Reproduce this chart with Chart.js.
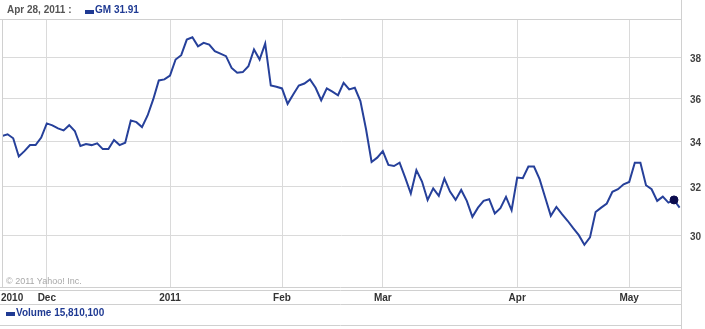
<!DOCTYPE html>
<html><head><meta charset="utf-8">
<script src="https://cdn.jsdelivr.net/npm/chart.js@4/dist/chart.umd.min.js"></script>
<style>
html,body{margin:0;padding:0;background:#fff;}
#wrap{position:relative;width:705px;height:329px;overflow:hidden;}
canvas{position:absolute;left:0;top:0;}
.t{position:absolute;font-family:"Liberation Sans",Arial,sans-serif;font-weight:bold;font-size:10px;line-height:12px;white-space:nowrap;}
.sw{position:absolute;width:9px;height:4px;background:#1f3a93;}
.cp{position:absolute;font-family:"Liberation Sans",Arial,sans-serif;font-size:9px;line-height:10px;color:#a8a8a8;white-space:nowrap;}
</style></head><body>
<div id="wrap">
<canvas id="c" width="705" height="329"></canvas>
<div class="t" style="left:7px;top:4px;color:#555">Apr 28, 2011 :</div>
<div class="sw" style="left:85px;top:10px"></div>
<div class="t" style="left:95px;top:4px;color:#1f3a93">GM 31.91</div>
<div class="cp" style="left:6px;top:276px">© 2011 Yahoo! Inc.</div>
<div class="sw" style="left:6px;top:312px"></div>
<div class="t" style="left:16px;top:307px;color:#1f3a93">Volume 15,810,100</div>
</div>
<script>
// ---- data ----
const xTickIdx = [0, 8, 30, 50, 68, 92, 112];
const xTickLabels = ['2010', 'Dec', '2011', 'Feb', 'Mar', 'Apr', 'May'];
const yTickValues = [30, 32, 34, 36, 38];
const gmClose = [
 34.23,34.31,34.13,33.31,33.55,33.82,33.82,34.16,34.81,34.72,
 34.58,34.49,34.73,34.46,33.78,33.87,33.82,33.90,33.64,33.64,
 34.05,33.82,33.93,34.95,34.87,34.64,35.18,35.94,36.86,36.91,
 37.10,37.90,38.12,38.92,39.04,38.57,38.75,38.66,38.32,38.20,
 38.07,37.48,37.24,37.27,37.56,38.41,37.90,38.71,36.61,36.55,
 36.47,35.73,36.18,36.61,36.71,36.91,36.50,35.90,36.47,36.31,
 36.14,36.74,36.42,36.50,35.86,34.55,33.07,33.26,33.55,32.94,
 32.89,33.04,32.39,31.71,32.71,32.22,31.44,31.93,31.61,32.35,
 31.79,31.44,31.86,31.40,30.74,31.12,31.40,31.47,30.88,31.10,
 31.57,31.01,32.39,32.36,32.87,32.87,32.32,31.54,30.78,31.15,
 30.85,30.58,30.28,30.00,29.62,29.91,30.94,31.12,31.29,31.78,
 31.89,32.10,32.20,33.04,33.04,32.06,31.89,31.40,31.58,31.33,
 31.44,31.12
];
const markerIdx = 120;

const GRID = '#dadada';
const BORDER = '#d0d0d0';

const framePlugin = {
  id: 'frame',
  afterDraw(chart) {
    const ctx = chart.ctx;
    const a = chart.chartArea;
    const xs = chart.scales.x;
    ctx.save();
    ctx.strokeStyle = BORDER;
    ctx.lineWidth = 1;
    const h = (y, x0, x1) => { ctx.beginPath(); ctx.moveTo(x0, Math.round(y) + 0.5); ctx.lineTo(x1, Math.round(y) + 0.5); ctx.stroke(); };
    const v = (x, y0, y1) => { ctx.beginPath(); ctx.moveTo(Math.round(x) + 0.5, y0); ctx.lineTo(Math.round(x) + 0.5, y1); ctx.stroke(); };
    h(a.top, 0, a.right);
    h(a.bottom, 0, a.right);
    h(a.bottom + 3, 0, a.right);
    h(a.bottom + 17, 0, a.right);
    h(a.bottom + 38, 0, a.right);
    v(a.left, a.top, a.bottom);
    v(a.right, 0, 329);
    // x labels
    ctx.fillStyle = '#333';
    ctx.font = 'bold 10px "Liberation Sans", Arial, sans-serif';
    ctx.textBaseline = 'middle';
    ctx.textAlign = 'center';
    xTickIdx.forEach((idx, i) => {
      const txt = xTickLabels[i];
      const w = ctx.measureText(txt).width;
      let px = xs.getPixelForValue(idx);
      px = Math.max(px, w / 2 + 1);
      ctx.fillText(txt, px, a.bottom + 11);
    });
    ctx.restore();
  }
};

new Chart(document.getElementById('c'), {
  type: 'line',
  data: {
    datasets: [{
      data: gmClose.map((v, i) => ({ x: i, y: v })),
      borderColor: '#26409a',
      borderWidth: 2,
      tension: 0,
      fill: false,
      pointRadius: ctx => ctx.dataIndex === markerIdx ? 4 : 0,
      pointBackgroundColor: '#0b0b4d',
      pointBorderColor: '#0b0b4d',
      pointBorderWidth: 1
    }]
  },
  options: {
    responsive: false,
    animation: false,
    events: [],
    devicePixelRatio: 1,
    layout: { padding: { left: 2, top: 19, right: 0, bottom: 42 } },
    plugins: { legend: { display: false }, tooltip: { enabled: false } },
    scales: {
      x: {
        type: 'linear',
        min: 0,
        max: 121.25,
        afterBuildTicks: s => { s.ticks = xTickIdx.map(v => ({ value: v })); },
        afterFit: s => { s.height = 0; },
        grid: { color: GRID, drawTicks: false, lineWidth: 1 },
        border: { display: false },
        ticks: { display: false }
      },
      y: {
        type: 'logarithmic',
        position: 'right',
        min: 28,
        max: 40,
        afterBuildTicks: s => { s.ticks = yTickValues.map(v => ({ value: v })); },
        afterFit: s => { s.width = 24; },
        grid: { color: GRID, drawTicks: false, lineWidth: 1 },
        border: { display: false },
        ticks: {
          padding: 9,
          labelOffset: 2,
          color: '#444',
          font: { family: '"Liberation Sans", Arial, sans-serif', weight: 'bold', size: 10 },
          callback: v => String(v)
        }
      }
    }
  },
  plugins: [framePlugin]
});
</script>
</body></html>
